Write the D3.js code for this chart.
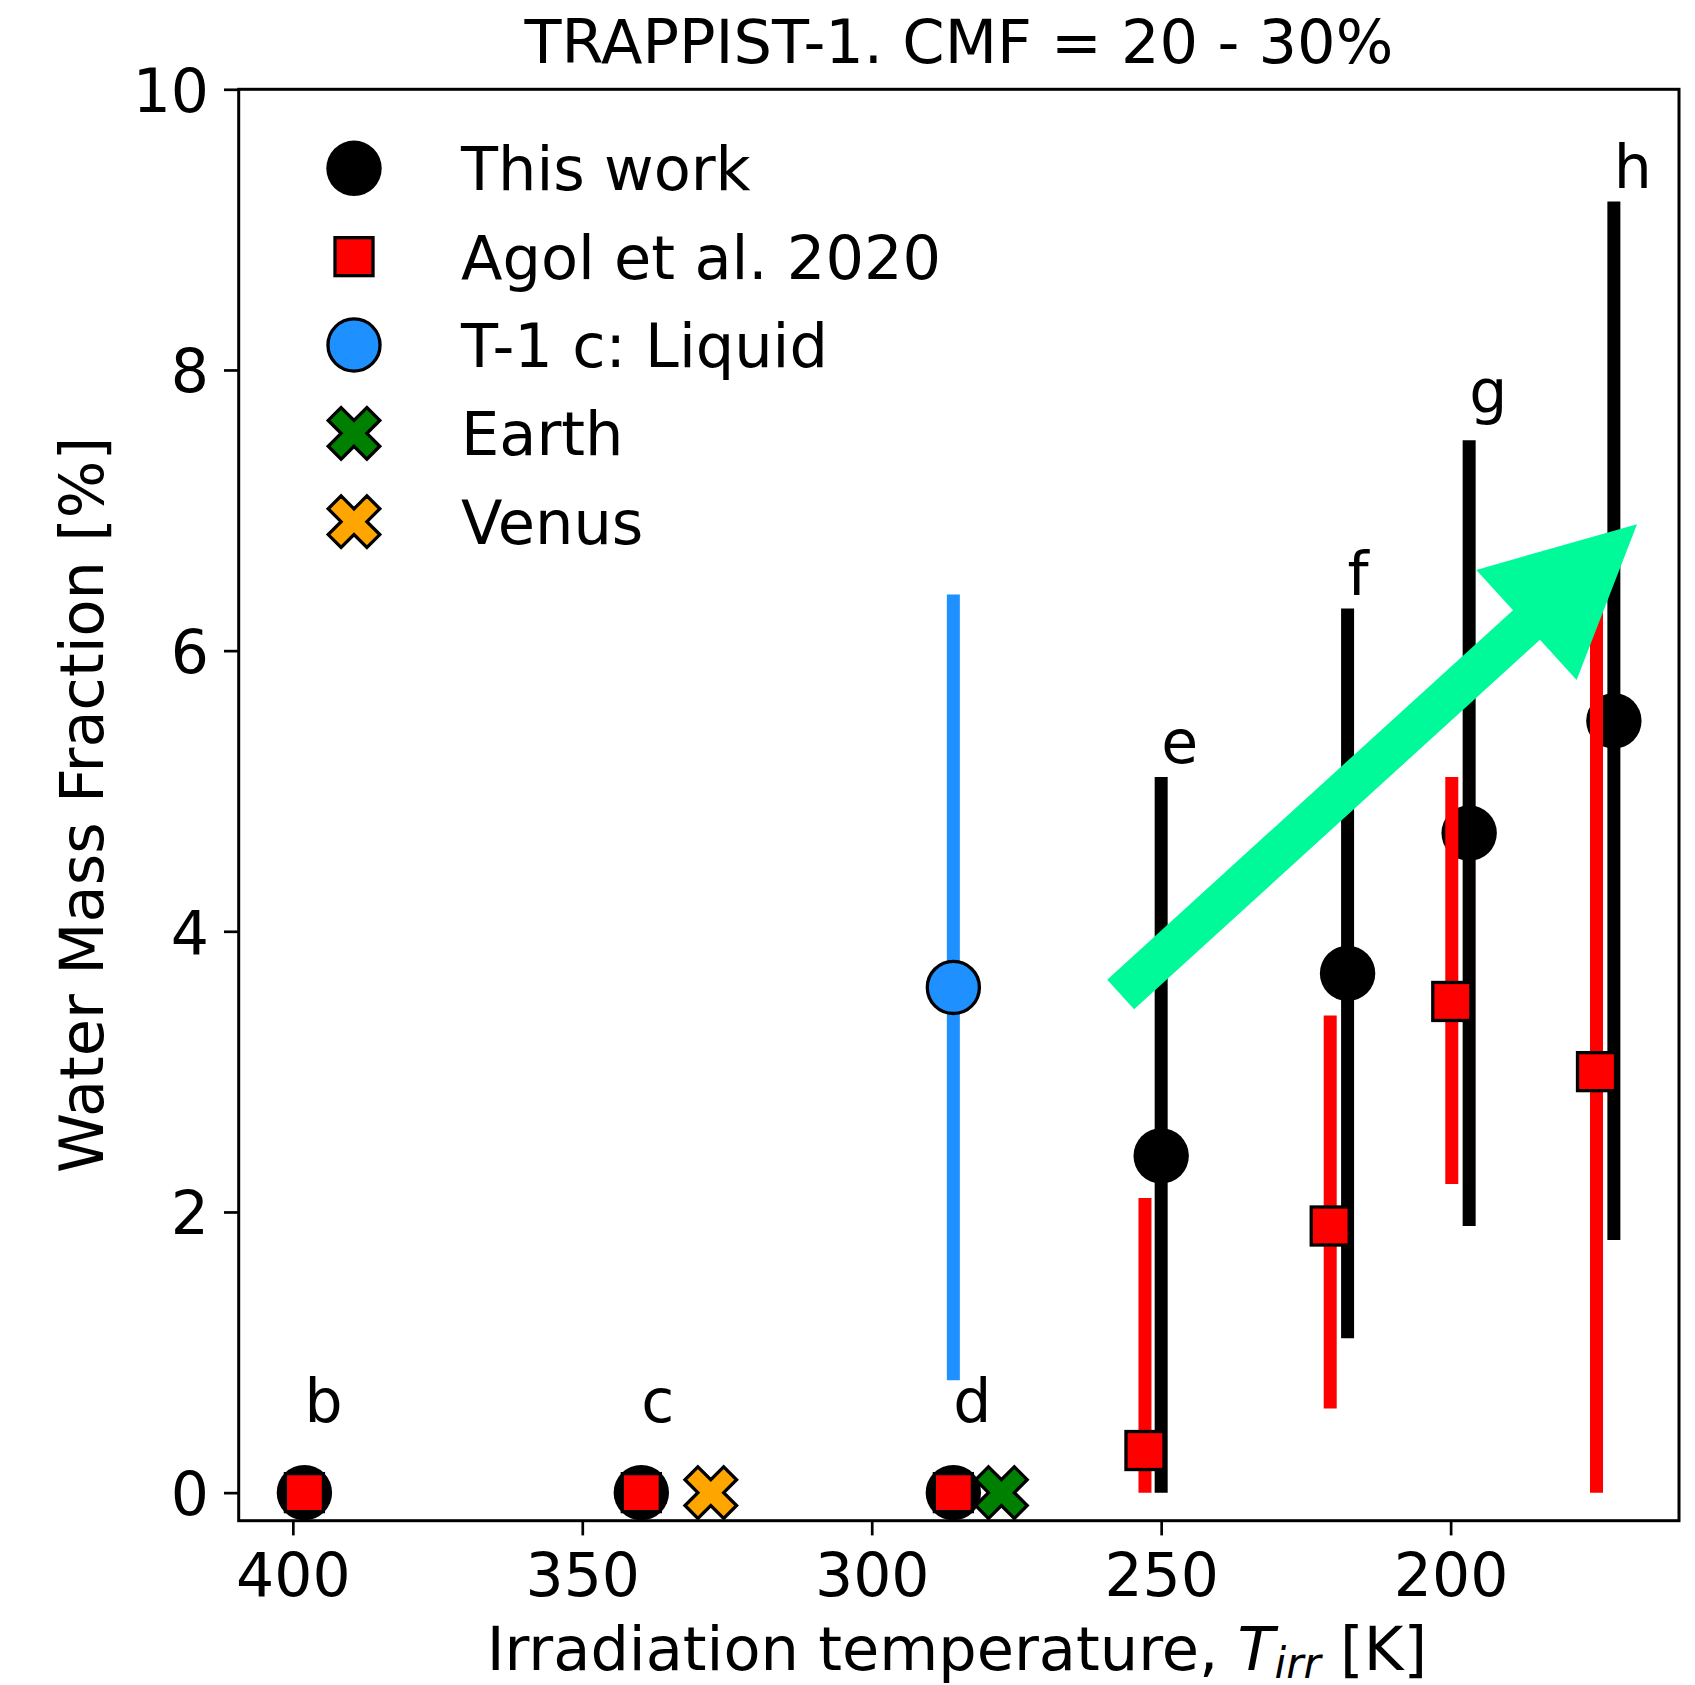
<!DOCTYPE html>
<html>
<head>
<meta charset="utf-8">
<script src="https://cdn.jsdelivr.net/npm/d3@7"></script>
<style>
  html, body { margin: 0; padding: 0; background: #fff; }
  svg { display: block; }
  text { font-family: "DejaVu Sans", sans-serif; fill: #000; }
</style>
</head>
<body>
<svg id="chart" width="1695" height="1685"></svg>
<script>
// Planets of the TRAPPIST-1 system
const planets = ["b", "c", "d", "e", "f", "g", "h"];

// This work: irradiation temperature [K], water mass fraction [%] and its range
const thisWorkT = [398, 339.8, 285.9, 250, 217.8, 196.8, 171.8];
const thisWorkWMF = [0, 0, 0, 2.4, 3.7, 4.7, 5.5];
const thisWorkLow = [0, 0, 0, 0, 1.1, 1.9, 1.8];
const thisWorkHigh = [0, 0, 0, 5.1, 6.3, 7.5, 9.2];

// Agol et al. 2020
const agolT = [398, 339.8, 285.9, 252.8, 220.8, 199.8, 174.8];
const agolWMF = [0, 0, 0, 0.3, 1.9, 3.5, 3.0];
const agolLow = [0, 0, 0, 0, 0.6, 2.2, 0];
const agolHigh = [0, 0, 0, 2.1, 3.4, 5.1, 6.4];

// Planet name labels: height in WMF units
const labelWMF = [0.5, 0.5, 0.5, 5.2, 6.4, 7.7, 9.3];

// T-1 c with a liquid water layer
const liquidT = [285.9];
const liquidWMF = [3.6];
const liquidLow = [0.8];
const liquidHigh = [6.4];

// Solar system references
const earthPoint = [277.6, 0];
const venusPoint = [327.8, 0];

// Trend arrow: tail and tip in (T, WMF)
const trendTail = [257, 3.55];
const trendTip = [167.8, 6.9];

// Axis ticks
const tempTicks = [400, 350, 300, 250, 200];
const wmfTicks = [0, 2, 4, 6, 8, 10];
const tempLimits = [409.35, 160.55];
const wmfLimits = [-0.2, 10];

const svg = d3.select("#chart");
const FONT = 60;
const LABEL_FONT = 60.6;
const plot = { left: 238.7, right: 1679, top: 89.3, bottom: 1520.7 };

const x = d3.scaleLinear().domain(tempLimits).range([plot.left, plot.right]);
const y = d3.scaleLinear().domain(wmfLimits).range([plot.bottom, plot.top]);

const BLACK = "#000000", RED = "#ff0000", BLUE = "#1e90ff",
      GREEN = "#008000", ORANGE = "#ffa500", ARROW = "#00fa9a";
const ERR_W = 13;
const CIRCLE_R = 27.7;
const SQ = 38;
const EDGE = 3.3;

// filled "X" marker outline
function xMarkerPath(cx, cy, u) {
  const pts = [[-1,-2],[0,-1],[1,-2],[2,-1],[1,0],[2,1],[1,2],[0,1],[-1,2],[-2,1],[-1,0],[-2,-1]];
  return "M" + pts.map(p => [cx + p[0]*u, cy + p[1]*u].join(",")).join("L") + "Z";
}

const g = svg.append("g");

// error bars helper
function errorBars(T, lo, hi, color) {
  g.append("g").selectAll("line")
    .data(T.map((t, i) => ({ t, lo: lo[i], hi: hi[i] })).filter(d => d.hi > d.lo))
    .join("line")
    .attr("x1", d => x(d.t)).attr("x2", d => x(d.t))
    .attr("y1", d => y(d.lo)).attr("y2", d => y(d.hi))
    .attr("stroke", color).attr("stroke-width", ERR_W).attr("stroke-linecap", "butt");
}

// T-1 c liquid case
errorBars(liquidT, liquidLow, liquidHigh, BLUE);
g.append("g").selectAll("circle")
  .data(liquidT.map((t, i) => ({ t, v: liquidWMF[i] })))
  .join("circle")
  .attr("cx", d => x(d.t)).attr("cy", d => y(d.v))
  .attr("r", CIRCLE_R - EDGE / 2)
  .attr("fill", BLUE).attr("stroke", BLACK).attr("stroke-width", EDGE);

// This work
errorBars(thisWorkT, thisWorkLow, thisWorkHigh, BLACK);
g.append("g").selectAll("circle")
  .data(thisWorkT.map((t, i) => ({ t, v: thisWorkWMF[i] })))
  .join("circle")
  .attr("cx", d => x(d.t)).attr("cy", d => y(d.v))
  .attr("r", CIRCLE_R).attr("fill", BLACK);

// Agol et al. 2020
errorBars(agolT, agolLow, agolHigh, RED);
g.append("g").selectAll("rect")
  .data(agolT.map((t, i) => ({ t, v: agolWMF[i] })))
  .join("rect")
  .attr("x", d => x(d.t) - SQ / 2).attr("y", d => y(d.v) - SQ / 2)
  .attr("width", SQ).attr("height", SQ)
  .attr("fill", RED).attr("stroke", BLACK).attr("stroke-width", EDGE);

// Earth and Venus
[[earthPoint, GREEN], [venusPoint, ORANGE]].forEach(([p, c]) => {
  g.append("path")
    .attr("d", xMarkerPath(x(p[0]), y(p[1]), 12.9))
    .attr("fill", c).attr("stroke", BLACK).attr("stroke-width", EDGE)
    .attr("stroke-linejoin", "miter");
});

// Planet labels
g.append("g").selectAll("text")
  .data(planets.map((p, i) => ({ p, t: thisWorkT[i], v: labelWMF[i] })))
  .join("text")
  .attr("x", d => x(d.t)).attr("y", d => y(d.v))
  .attr("font-size", FONT)
  .text(d => d.p);

// Trend arrow
(function () {
  const x0 = x(trendTail[0]), y0 = y(trendTail[1]);
  const x1 = x(trendTip[0]), y1 = y(trendTip[1]);
  const len = Math.hypot(x1 - x0, y1 - y0);
  const ux = (x1 - x0) / len, uy = (y1 - y0) / len;
  const nx = -uy, ny = ux;
  const hw = 20, HW = 74.5, HL = 149.5;
  const bx = x1 - ux * HL, by = y1 - uy * HL;
  const pts = [
    [x0 + nx * hw, y0 + ny * hw],
    [bx + nx * hw, by + ny * hw],
    [bx + nx * HW, by + ny * HW],
    [x1, y1],
    [bx - nx * HW, by - ny * HW],
    [bx - nx * hw, by - ny * hw],
    [x0 - nx * hw, y0 - ny * hw]
  ];
  g.append("path")
    .attr("d", "M" + pts.map(p => p.join(",")).join("L") + "Z")
    .attr("fill", ARROW);
})();

// Axes
const TICK = 14.7;
const xAxis = d3.axisBottom(x).tickValues(tempTicks).tickSize(TICK).tickPadding(0).tickFormat(d3.format("d"));
const yAxis = d3.axisLeft(y).tickValues(wmfTicks).tickSize(TICK).tickPadding(0).tickFormat(d3.format("d"));

const gx = svg.append("g").attr("transform", `translate(0,${plot.bottom})`).call(xAxis);
const gy = svg.append("g").attr("transform", `translate(${plot.left},0)`).call(yAxis);
[gx, gy].forEach(ax => {
  ax.select(".domain").remove();
  ax.selectAll(".tick line").attr("stroke", BLACK).attr("stroke-width", 2.7);
  ax.selectAll(".tick text").attr("font-size", FONT).attr("font-family", "DejaVu Sans").attr("fill", BLACK);
});
gx.selectAll(".tick text").attr("dy", null).attr("y", 1596 - plot.bottom);
gy.selectAll(".tick text").attr("dy", null).attr("x", -(plot.left - 209)).attr("y", 21.9);

// Frame
svg.append("rect")
  .attr("x", plot.left).attr("y", plot.top)
  .attr("width", plot.right - plot.left).attr("height", plot.bottom - plot.top)
  .attr("fill", "none").attr("stroke", BLACK).attr("stroke-width", 3);

// Title
svg.append("text")
  .attr("x", (plot.left + plot.right) / 2).attr("y", 63.3)
  .attr("text-anchor", "middle").attr("font-size", LABEL_FONT)
  .text("TRAPPIST-1. CMF = 20 - 30%");

// x label with math T_irr
const xl = svg.append("text")
  .attr("x", (plot.left + plot.right) / 2 - 2).attr("y", 1670)
  .attr("text-anchor", "middle").attr("font-size", LABEL_FONT);
xl.append("tspan").text("Irradiation temperature, ");
xl.append("tspan").attr("font-style", "italic").text("T");
xl.append("tspan").attr("font-style", "italic").attr("font-size", 42).attr("dy", 8).text("irr");
xl.append("tspan").attr("dy", -8).text(" [K]");

// y label
svg.append("text")
  .attr("transform", `translate(103,${(plot.top + plot.bottom) / 2}) rotate(-90)`)
  .attr("text-anchor", "middle").attr("font-size", LABEL_FONT)
  .text("Water Mass Fraction [%]");

// Legend
const legendRows = [
  { label: "This work", kind: "circle", fill: BLACK, edge: false },
  { label: "Agol et al. 2020", kind: "square", fill: RED },
  { label: "T-1 c: Liquid", kind: "circle", fill: BLUE, edge: true },
  { label: "Earth", kind: "x", fill: GREEN },
  { label: "Venus", kind: "x", fill: ORANGE }
];
const lg = svg.append("g");
legendRows.forEach((r, i) => {
  const cy = 168.3 + i * 88.35, cx = 354;
  if (r.kind === "circle") {
    lg.append("circle").attr("cx", cx).attr("cy", cy)
      .attr("r", r.edge ? CIRCLE_R - EDGE / 2 : CIRCLE_R)
      .attr("fill", r.fill)
      .attr("stroke", r.edge ? BLACK : "none").attr("stroke-width", EDGE);
  } else if (r.kind === "square") {
    lg.append("rect").attr("x", cx - SQ / 2).attr("y", cy - SQ / 2)
      .attr("width", SQ).attr("height", SQ)
      .attr("fill", r.fill).attr("stroke", BLACK).attr("stroke-width", EDGE);
  } else {
    lg.append("path").attr("d", xMarkerPath(cx, cy, 12.9))
      .attr("fill", r.fill).attr("stroke", BLACK).attr("stroke-width", EDGE);
  }
  lg.append("text").attr("x", 461).attr("y", cy + 21.9)
    .attr("font-size", LABEL_FONT).text(r.label);
});
</script>
</body>
</html>
